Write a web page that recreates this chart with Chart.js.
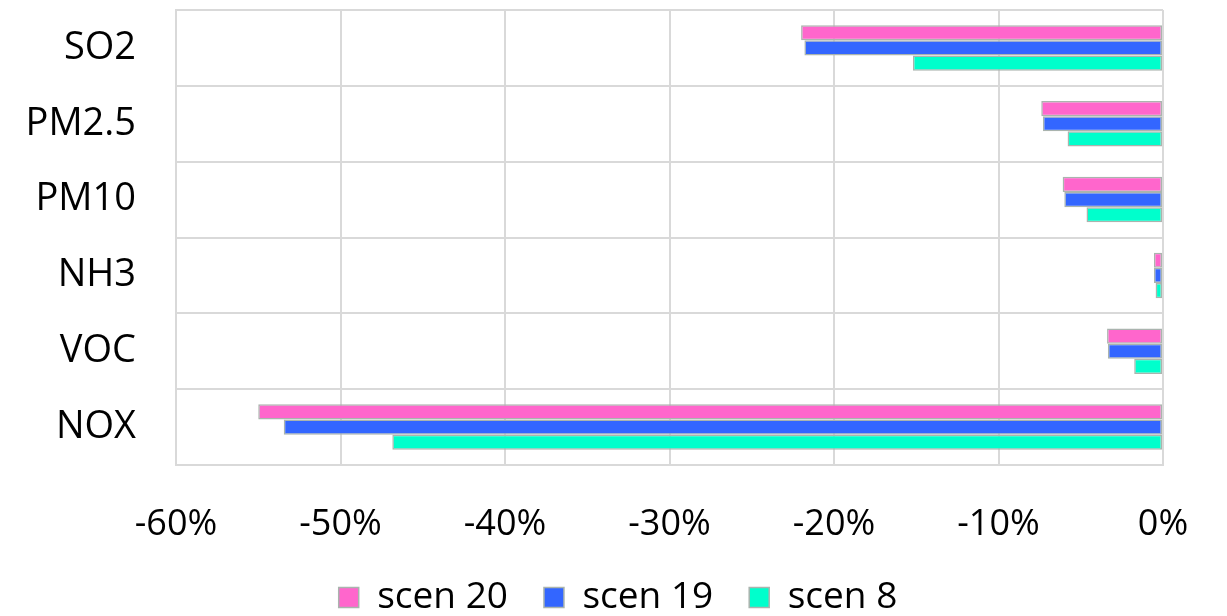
<!DOCTYPE html>
<html>
<head>
<meta charset="utf-8">
<script src="https://cdn.jsdelivr.net/npm/chart.js@4.4.1/dist/chart.umd.min.js"></script>
<style>
  html, body { margin: 0; padding: 0; background: #ffffff; }
  #wrap { width: 1227px; height: 616px; }
</style>
</head>
<body>
<div id="wrap"><canvas id="chart" width="1227" height="616"></canvas></div>
<script>
// Pollutants, top to bottom
const pollutants = ['SO2', 'PM2.5', 'PM10', 'NH3', 'VOC', 'NOX'];

// Change in emissions per scenario (%)
const scen20 = [-22.0, -7.4, -6.1, -0.55, -3.4, -55.0];
const scen19 = [-21.8, -7.3, -6.0, -0.55, -3.35, -53.45];
const scen8  = [-15.2, -5.8, -4.65, -0.45, -1.75, -46.85];

// Value axis ticks (%)
const xTicks = [-60, -50, -40, -30, -20, -10, 0];

const fontFamily = "'Open Sans', 'DejaVu Sans', sans-serif";
const edge = '#aab4ae';
const gridColor = '#d9d9d9';

function series(label, data, color) {
  return {
    label: label,
    data: data,
    backgroundColor: color,
    borderColor: edge,
    borderWidth: 1.5,
    borderSkipped: false,
    categoryPercentage: 0.6,
    barPercentage: 1.0
  };
}

new Chart(document.getElementById('chart'), {
  type: 'bar',
  data: {
    labels: pollutants,
    datasets: [
      series('scen 20', scen20, '#ff66cc'),
      series('scen 19', scen19, '#3366ff'),
      series('scen 8', scen8, '#00ffcc')
    ]
  },
  options: {
    indexAxis: 'y',
    responsive: false,
    animation: false,
    layout: { padding: { top: 10, right: 0, left: 9, bottom: 0 } },
    plugins: {
      tooltip: { enabled: false },
      legend: {
        position: 'bottom',
        maxHeight: 73,
        labels: {
          boxWidth: 20,
          boxHeight: 20,
          padding: 36,
          color: '#000000',
          font: { family: fontFamily, size: 37 }
        }
      }
    },
    scales: {
      x: {
        min: xTicks[0],
        max: xTicks[xTicks.length - 1],
        afterBuildTicks: function (scale) {
          scale.ticks = xTicks.map(function (v) { return { value: v }; });
        },
        afterFit: function (scale) {
          scale.height = 78;
          scale.paddingLeft = 0;
          scale.paddingRight = 64;
        },
        grid: { color: gridColor, lineWidth: 2, drawTicks: false },
        border: { color: gridColor, width: 2 },
        ticks: {
          padding: 38,
          maxRotation: 0,
          color: '#000000',
          font: { family: fontFamily, size: 36 },
          callback: function (v) { return v + '%'; }
        }
      },
      y: {
        afterFit: function (scale) {
          scale.width = 167;
          scale.paddingTop = 0;
          scale.paddingBottom = 0;
        },
        grid: { color: gridColor, lineWidth: 2, drawTicks: false, offset: true },
        border: { color: gridColor, width: 2 },
        ticks: {
          padding: 40,
          color: '#000000',
          font: { family: fontFamily, size: 38 }
        }
      }
    }
  }
});
</script>
</body>
</html>
